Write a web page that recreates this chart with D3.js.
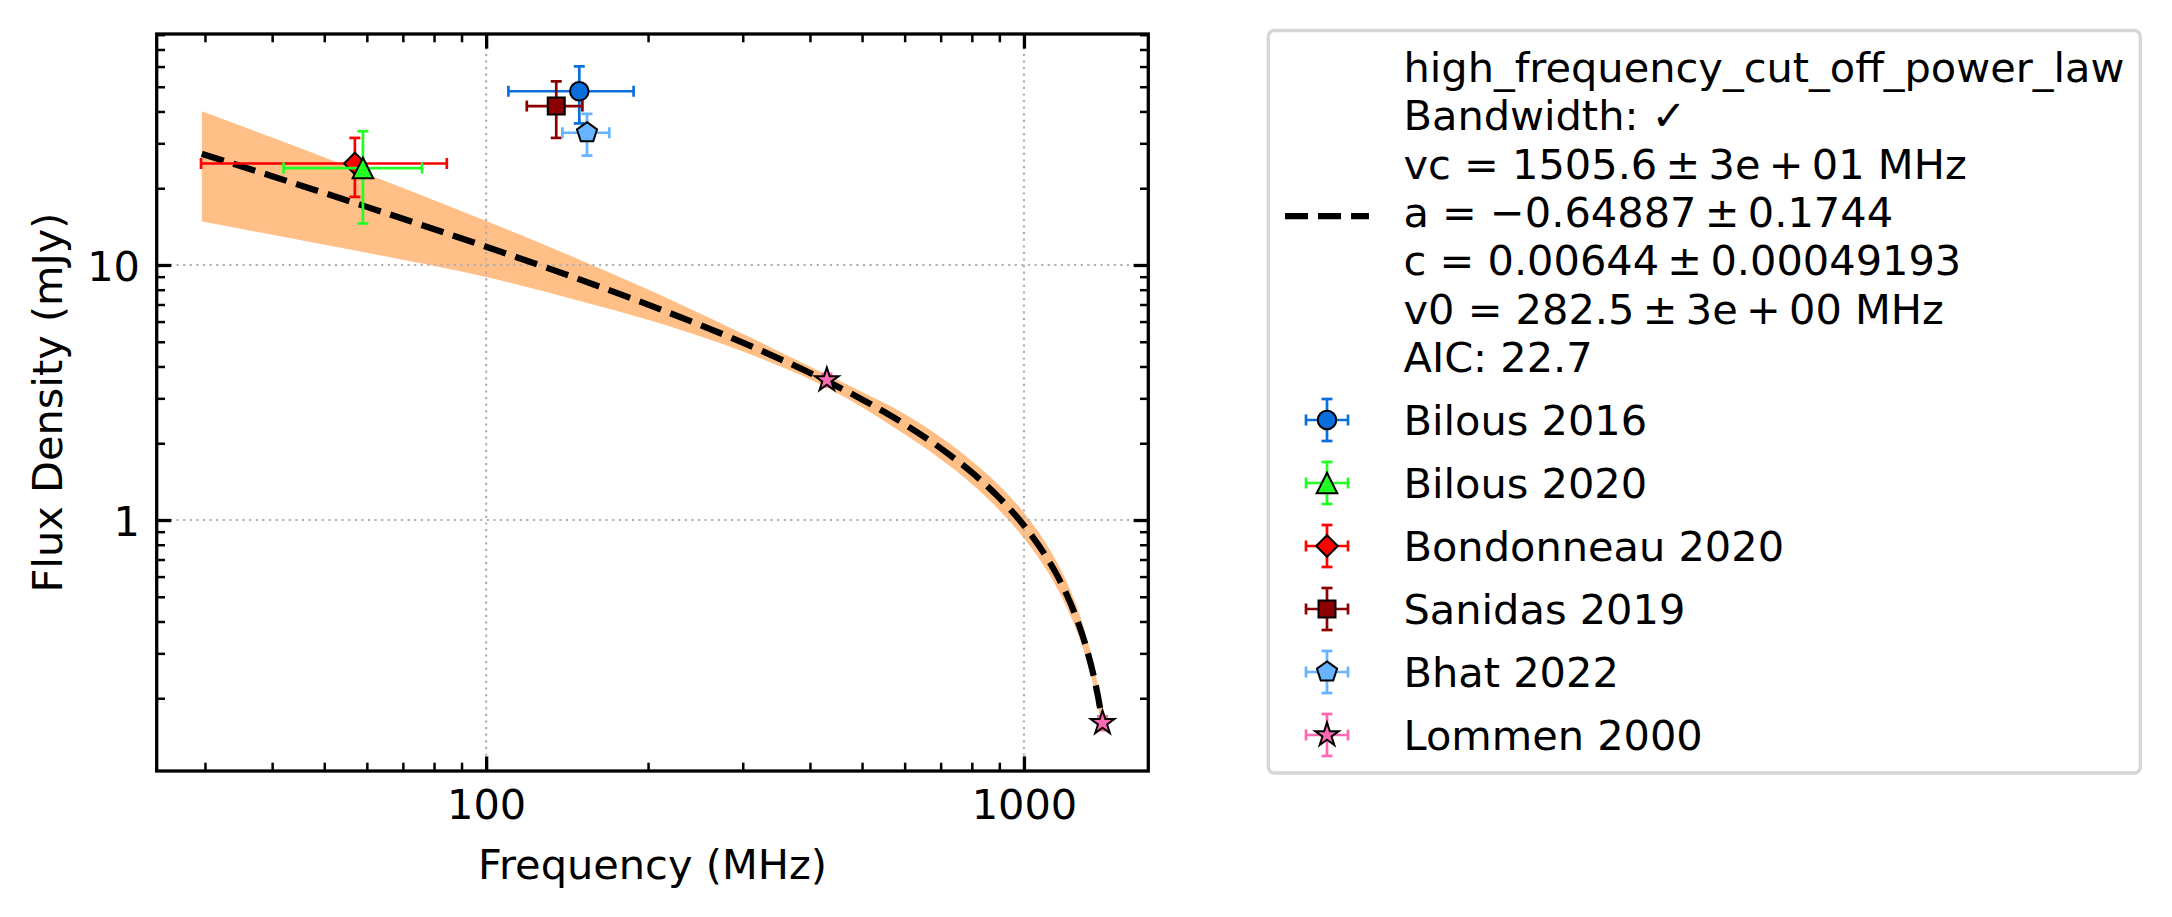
<!DOCTYPE html>
<html><head><meta charset="utf-8">
<script src="https://cdn.jsdelivr.net/npm/d3@7"></script>
<style>
body{margin:0;background:#fff}
svg{display:block;background:#fff}
text{font-family:"DejaVu Sans",sans-serif}
</style>
</head><body>
<svg id="chart" width="2172" height="917"></svg>
<script>
// ---------------- data ----------------
const seriesNames   = ["Bilous 2016","Bilous 2020","Bondonneau 2020","Sanidas 2019","Bhat 2022","Lommen 2000"];
const seriesColors  = ["#0a6fdc","#22ff22","#ff0000","#8b0000","#66b3ff","#ff69b4"];
const seriesMarkers = ["circle","triangle","diamond","square","pentagon","star"];
const seriesFreq    = [[149],[59],[57],[135],[154],[430,1400]];
const seriesFreqErr = [[39],[17],[27.5],[16],[15.4],[8,20]];
const seriesFlux    = [[48],[24],[25],[42],[33],[3.54,0.16]];
const seriesFluxErr = [[12.1],[9.45],[6.5],[10.5],[6.15],[0.2,0.01]];
const drawOrder     = [0,2,1,3,4,5];

// fitted model curve and its uncertainty band
const fitFreq   = [29.6, 40, 60, 100, 150, 200, 300, 430, 500, 600, 700, 800, 900, 1000, 1100, 1150, 1200, 1250, 1300, 1350, 1375, 1400];
const fitFlux   = [27.29, 22.29, 16.90, 11.79, 8.744, 6.987, 4.960, 3.503, 2.970, 2.376, 1.912, 1.536, 1.221, 0.952, 0.718, 0.612, 0.5114, 0.4165, 0.3266, 0.2412, 0.200, 0.160];
const bandUpper = [40.1, 31.6, 22.75, 14.88, 10.44, 8.01, 5.37, 3.71, 3.18, 2.605, 2.111, 1.704, 1.364, 1.068, 0.806, 0.687, 0.574, 0.465, 0.3624, 0.266, 0.219, 0.175];
const bandLower = [14.8, 13.15, 11.17, 8.98, 7.21, 6.10, 4.58, 3.31, 2.77, 2.167, 1.732, 1.385, 1.093, 0.849, 0.640, 0.545, 0.456, 0.373, 0.2943, 0.2189, 0.182, 0.146];

const TS = "\u2009"; // thin space (math operator spacing)
const fitLegendLines = [
  "high_frequency_cut_off_power_law",
  "Bandwidth: \u2713",
  `vc = 1505.6${TS}\u00b1${TS}3e${TS}+${TS}01 MHz`,
  `a = \u22120.64887${TS}\u00b1${TS}0.1744`,
  `c = 0.00644${TS}\u00b1${TS}0.00049193`,
  `v0 = 282.5${TS}\u00b1${TS}3e${TS}+${TS}00 MHz`,
  "AIC: 22.7"
];

const xMajorTicks = [100, 1000];
const xTickLabels = ["100", "1000"];
const xMinorTicks = [30,40,50,60,70,80,90,200,300,400,500,600,700,800,900];
const yMajorTicks = [1, 10];
const yTickLabels = ["1", "10"];
const yMinorTicks = [0.2,0.3,0.4,0.5,0.6,0.7,0.8,0.9,2,3,4,5,6,7,8,9,20,30,40,50,60,70,80];

const xLabel = "Frequency (MHz)";
const yLabel = "Flux Density (mJy)";

// ---------------- layout ----------------
const FS = 41.5;
const L = 156.7, R = 1148.3, T = 34, B = 771;
const svg = d3.select("#chart");

const x = d3.scaleLog().domain([24.4, 1703]).range([L, R]);
const y = d3.scaleLog().domain([0.1037, 80.5]).range([B, T]);

const clipId = "plotclip";
svg.append("defs").append("clipPath").attr("id", clipId)
  .append("rect").attr("x", L).attr("y", T).attr("width", R - L).attr("height", B - T);

const plot = svg.append("g").attr("clip-path", `url(#${clipId})`);

// uncertainty band
const bandData = fitFreq.map((f, i) => ({f, lo: bandLower[i], hi: bandUpper[i]}));
plot.append("path").datum(bandData)
  .attr("d", d3.area().x(d => x(d.f)).y0(d => y(d.lo)).y1(d => y(d.hi)).curve(d3.curveMonotoneX))
  .attr("fill", "#ffbf86").attr("stroke", "none");

// grid
plot.selectAll(".gx").data(xMajorTicks).join("line")
  .attr("x1", d => x(d)).attr("x2", d => x(d)).attr("y1", T).attr("y2", B)
  .attr("stroke", "#b0b0b0").attr("stroke-width", 2.2).attr("stroke-dasharray", "2.2,4.4");
plot.selectAll(".gy").data(yMajorTicks).join("line")
  .attr("y1", d => y(d)).attr("y2", d => y(d)).attr("x1", L).attr("x2", R)
  .attr("stroke", "#b0b0b0").attr("stroke-width", 2.2).attr("stroke-dasharray", "2.2,4.4");

// fit line
const fitData = fitFreq.map((f, i) => ({f, s: fitFlux[i]}));
plot.append("path").datum(fitData)
  .attr("d", d3.line().x(d => x(d.f)).y(d => y(d.s)).curve(d3.curveMonotoneX))
  .attr("fill", "none").attr("stroke", "#000").attr("stroke-width", 6.25)
  .attr("stroke-dasharray", "23,10");

// markers
function markerPath(type) {
  const p = d3.path();
  if (type === "circle") { const r = 9.3; p.moveTo(r, 0); p.arc(0, 0, r, 0, 2 * Math.PI); }
  else if (type === "square") { const r = 8.5; p.rect(-r, -r, 2 * r, 2 * r); }
  else if (type === "diamond") { const r = 10.8; p.moveTo(0, -r); p.lineTo(r, 0); p.lineTo(0, r); p.lineTo(-r, 0); p.closePath(); }
  else if (type === "triangle") { const r = 10.3; p.moveTo(0, -r); p.lineTo(r, r); p.lineTo(-r, r); p.closePath(); }
  else if (type === "pentagon") {
    const r = 10.6;
    for (let i = 0; i < 5; i++) {
      const a = -Math.PI / 2 + i * 2 * Math.PI / 5;
      const px = r * Math.cos(a), py = r * Math.sin(a);
      if (i === 0) p.moveTo(px, py); else p.lineTo(px, py);
    }
    p.closePath();
  } else if (type === "star") {
    const r = 12.5, ri = r * 0.381966;
    for (let i = 0; i < 10; i++) {
      const a = -Math.PI / 2 + i * Math.PI / 5;
      const rr = i % 2 === 0 ? r : ri;
      const px = rr * Math.cos(a), py = rr * Math.sin(a);
      if (i === 0) p.moveTo(px, py); else p.lineTo(px, py);
    }
    p.closePath();
  }
  return p.toString();
}

const EW = 2.7, CAP = 5.5;
function errLines(g, color, x1, x2, yc, y1, y2, xc) {
  const segs = [
    [x1, yc, x2, yc], [xc, y1, xc, y2],
    [x1, yc - CAP, x1, yc + CAP], [x2, yc - CAP, x2, yc + CAP],
    [xc - CAP, y1, xc + CAP, y1], [xc - CAP, y2, xc + CAP, y2]
  ];
  g.selectAll(null).data(segs).join("line")
    .attr("x1", d => d[0]).attr("y1", d => d[1]).attr("x2", d => d[2]).attr("y2", d => d[3])
    .attr("stroke", color).attr("stroke-width", EW);
}

const dataLayer = svg.append("g");
drawOrder.forEach(si => {
  const g = dataLayer.append("g");
  seriesFreq[si].forEach((f, j) => {
    const s = seriesFlux[si][j], fe = seriesFreqErr[si][j], se = seriesFluxErr[si][j];
    errLines(g, seriesColors[si], x(f - fe), x(f + fe), y(s), y(s + se), y(s - se), x(f));
  });
  g.selectAll(null).data(seriesFreq[si].map((f, j) => [f, seriesFlux[si][j]])).join("path")
    .attr("d", markerPath(seriesMarkers[si]))
    .attr("transform", d => `translate(${x(d[0])},${y(d[1])})`)
    .attr("fill", seriesColors[si]).attr("stroke", "#000").attr("stroke-width", 2);
});

// ---------------- axes ----------------
function finishAxis(g) {
  g.select(".domain").remove();
  g.selectAll(".tick line").attr("stroke", "#000");
  g.attr("font-family", "DejaVu Sans, sans-serif").attr("font-size", FS);
  g.selectAll(".tick text").attr("fill", "#000");
}
// bottom
svg.append("g").attr("transform", `translate(0,${B})`)
  .call(d3.axisBottom(x).tickValues(xMajorTicks).tickFormat((d, i) => xTickLabels[i]).tickSize(-14.6).tickSizeOuter(0).tickPadding(18.5))
  .call(finishAxis).call(g => g.selectAll(".tick line").attr("stroke-width", 3.3));
svg.append("g").attr("transform", `translate(0,${B})`)
  .call(d3.axisBottom(x).tickValues(xMinorTicks).tickFormat("").tickSize(-8.3).tickSizeOuter(0))
  .call(finishAxis).call(g => g.selectAll(".tick line").attr("stroke-width", 2.5));
// top
svg.append("g").attr("transform", `translate(0,${T})`)
  .call(d3.axisTop(x).tickValues(xMajorTicks).tickFormat("").tickSize(-14.6).tickSizeOuter(0))
  .call(finishAxis).call(g => g.selectAll(".tick line").attr("stroke-width", 3.3));
svg.append("g").attr("transform", `translate(0,${T})`)
  .call(d3.axisTop(x).tickValues(xMinorTicks).tickFormat("").tickSize(-8.3).tickSizeOuter(0))
  .call(finishAxis).call(g => g.selectAll(".tick line").attr("stroke-width", 2.5));
// left
svg.append("g").attr("transform", `translate(${L},0)`)
  .call(d3.axisLeft(y).tickValues(yMajorTicks).tickFormat((d, i) => yTickLabels[i]).tickSize(-14.6).tickSizeOuter(0).tickPadding(16.7))
  .call(finishAxis).call(g => { g.selectAll(".tick line").attr("stroke-width", 3.3); g.selectAll(".tick text").attr("dy", "0.37em"); });
svg.append("g").attr("transform", `translate(${L},0)`)
  .call(d3.axisLeft(y).tickValues(yMinorTicks).tickFormat("").tickSize(-8.3).tickSizeOuter(0))
  .call(finishAxis).call(g => g.selectAll(".tick line").attr("stroke-width", 2.5));
// right
svg.append("g").attr("transform", `translate(${R},0)`)
  .call(d3.axisRight(y).tickValues(yMajorTicks).tickFormat("").tickSize(-14.6).tickSizeOuter(0))
  .call(finishAxis).call(g => g.selectAll(".tick line").attr("stroke-width", 3.3));
svg.append("g").attr("transform", `translate(${R},0)`)
  .call(d3.axisRight(y).tickValues(yMinorTicks).tickFormat("").tickSize(-8.3).tickSizeOuter(0))
  .call(finishAxis).call(g => g.selectAll(".tick line").attr("stroke-width", 2.5));

// spines
svg.append("rect").attr("x", L).attr("y", T).attr("width", R - L).attr("height", B - T)
  .attr("fill", "none").attr("stroke", "#000").attr("stroke-width", 3.3);

// axis labels
svg.append("text").attr("x", (L + R) / 2).attr("y", 878.5).attr("text-anchor", "middle")
  .attr("font-size", FS).attr("fill", "#000").text(xLabel);
svg.append("text").attr("transform", `translate(61.5,${(T + B) / 2}) rotate(-90)`).attr("text-anchor", "middle")
  .attr("font-size", FS).attr("fill", "#000").text(yLabel);

// ---------------- legend ----------------
const LG = {x: 1268.3, y: 30.5, w: 872, h: 742.5};
const leg = svg.append("g");
leg.append("rect").attr("x", LG.x).attr("y", LG.y).attr("width", LG.w).attr("height", LG.h)
  .attr("rx", 6).attr("ry", 6).attr("fill", "#fff").attr("stroke", "#d6d6d6").attr("stroke-width", 3.3);

const textX = 1403.5, handleX = 1327;
leg.append("line").attr("x1", 1285).attr("x2", 1369).attr("y1", 216).attr("y2", 216)
  .attr("stroke", "#000").attr("stroke-width", 6.25).attr("stroke-dasharray", "23,10");
leg.selectAll(".fitline").data(fitLegendLines).join("text")
  .attr("x", textX).attr("y", (d, i) => 81.7 + i * 48.4)
  .attr("font-size", FS).attr("fill", "#000").attr("xml:space", "preserve")
  .style("white-space", "pre").text(d => d);

seriesNames.forEach((name, i) => {
  const cy = 420 + i * 63;
  const g = leg.append("g");
  errLines(g, seriesColors[i], handleX - 21, handleX + 21, cy, cy - 21, cy + 21, handleX);
  g.append("path").attr("d", markerPath(seriesMarkers[i])).attr("transform", `translate(${handleX},${cy})`)
    .attr("fill", seriesColors[i]).attr("stroke", "#000").attr("stroke-width", 2);
  g.append("text").attr("x", textX).attr("y", cy + 15.2).attr("font-size", FS).attr("fill", "#000").text(name);
});
</script>
</body></html>
